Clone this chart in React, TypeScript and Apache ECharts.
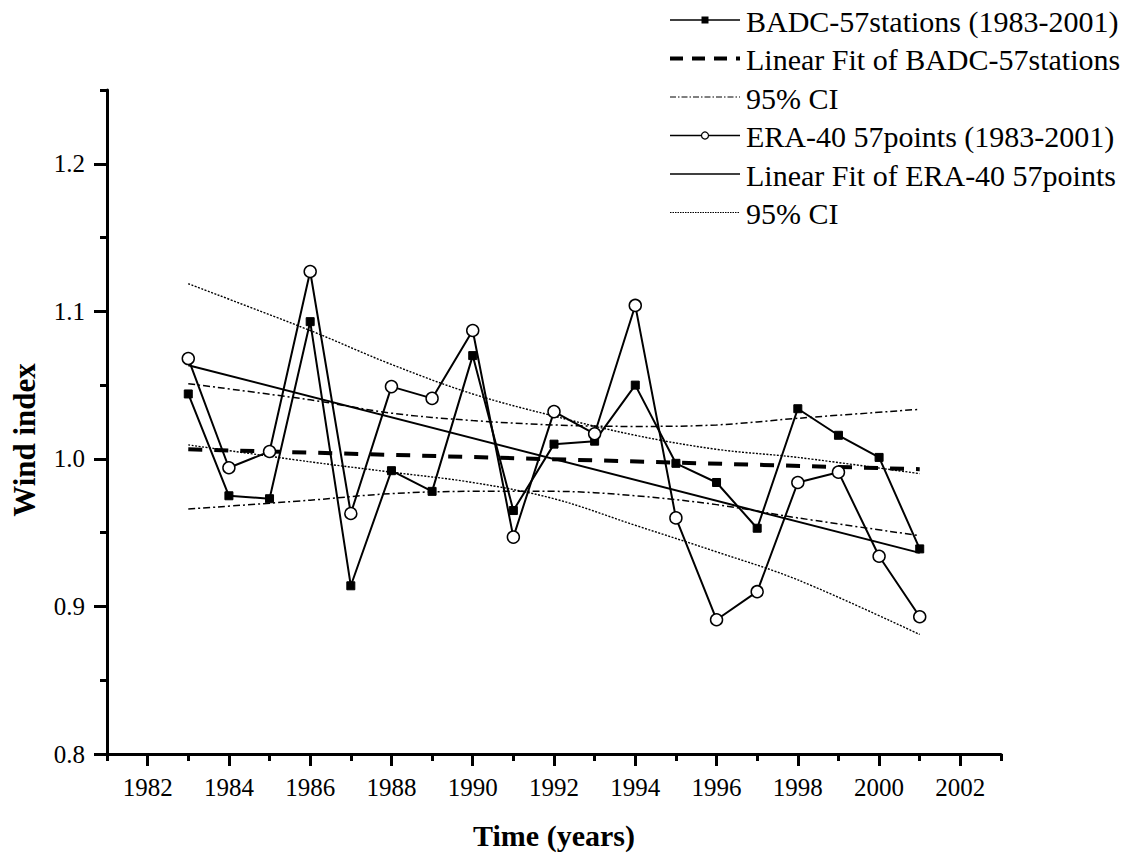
import React, { useEffect, useRef } from "react";
import * as echarts from "echarts";

const years = [1983, 1984, 1985, 1986, 1987, 1988, 1989, 1990, 1991, 1992, 1993, 1994, 1995, 1996, 1997, 1998, 1999, 2000, 2001];
const badc = [1.044, 0.975, 0.973, 1.093, 0.914, 0.992, 0.978, 1.070, 0.965, 1.010, 1.012, 1.050, 0.997, 0.984, 0.953, 1.034, 1.016, 1.001, 0.939];
const era = [1.068, 0.994, 1.005, 1.127, 0.963, 1.049, 1.041, 1.087, 0.947, 1.032, 1.017, 1.104, 0.960, 0.891, 0.910, 0.984, 0.991, 0.934, 0.893];

const fitYears = [1983, 2001];
const badcFit = [1.0065, 0.993];
const eraFit = [1.0635, 0.9363];

const ciYears = [1983, 1986, 1988, 1990, 1992, 1994, 1996, 1998, 2001];
const badcUpper = [1.051, 1.040, 1.031, 1.026, 1.023, 1.022, 1.023, 1.0275, 1.0336];
const badcLower = [0.966, 0.972, 0.9765, 0.978, 0.978, 0.975, 0.969, 0.960, 0.948];
const eraUpper = [1.1187, 1.087, 1.064, 1.044, 1.029, 1.016, 1.0065, 1.001, 0.990];
const eraLower = [1.0095, 0.998, 0.991, 0.984, 0.973, 0.955, 0.937, 0.918, 0.881];

const xMajor = [1982, 1984, 1986, 1988, 1990, 1992, 1994, 1996, 1998, 2000, 2002];
const xMinor = [1981, 1983, 1985, 1987, 1989, 1991, 1993, 1995, 1997, 1999, 2001, 2003];
const yMajor = [0.8, 0.9, 1.0, 1.1, 1.2];
const yMinor = [0.85, 0.95, 1.05, 1.15, 1.25];

const legendLabels = [
  "BADC-57stations (1983-2001)",
  "Linear Fit of BADC-57stations",
  "95% CI",
  "ERA-40 57points (1983-2001)",
  "Linear Fit of ERA-40 57points",
  "95% CI",
];

const FONT = '"Liberation Serif", "Times New Roman", serif';

const pairs = (xs: number[], ys: number[]) => xs.map((x, i) => [x, ys[i]]);

export default function App() {
  const ref = useRef<HTMLDivElement>(null);
  useEffect(() => {
    if (!ref.current) return;
    const chart = echarts.init(ref.current, null, { renderer: "svg" });

    const lx1 = 670, lx2 = 740, ltx = 746, ly0 = 20, lstep = 38.5;
    const legendStyles: any[] = [
      { lineWidth: 1.5, lineDash: null },
      { lineWidth: 4, lineDash: [13, 9] },
      { lineWidth: 1, lineDash: [6, 2, 1.5, 2] },
      { lineWidth: 1.5, lineDash: null },
      { lineWidth: 1.5, lineDash: null },
      { lineWidth: 1, lineDash: [1.5, 1] },
    ];
    const legendGraphics: any[] = [];
    legendLabels.forEach((label, i) => {
      const y = ly0 + i * lstep;
      legendGraphics.push({
        type: "line",
        shape: { x1: lx1, y1: y, x2: lx2, y2: y },
        style: { stroke: "#000", lineWidth: legendStyles[i].lineWidth, lineDash: legendStyles[i].lineDash },
      });
      legendGraphics.push({
        type: "text",
        x: ltx,
        y: y + 1,
        style: { text: label, fill: "#000", font: `30px ${FONT}`, verticalAlign: "middle" },
      });
    });
    legendGraphics.push({
      type: "rect",
      shape: { x: 701.5, y: ly0 - 3.5, width: 7, height: 7 },
      style: { fill: "#000" },
    });
    legendGraphics.push({
      type: "circle",
      shape: { cx: 705, cy: ly0 + 3 * lstep, r: 3.5 },
      style: { fill: "#fff", stroke: "#000", lineWidth: 1.2 },
    });

    const axisLineStyle = { color: "#000", width: 3 };

    const option: any = {
      animation: false,
      backgroundColor: "#fff",
      grid: { left: 107, right: 140, top: 90, bottom: 102, containLabel: false },
      xAxis: [
        {
          type: "value",
          min: 1981,
          max: 2003,
          position: "bottom",
          axisLine: { show: true, lineStyle: axisLineStyle },
          axisTick: { show: true, customValues: xMajor, length: 12, inside: false, lineStyle: { color: "#000", width: 3 } },
          axisLabel: {
            show: true,
            customValues: xMajor,
            margin: 21,
            color: "#000",
            fontFamily: FONT,
            fontSize: 25,
            formatter: (v: number) => String(v),
          },
          splitLine: { show: false },
        },
        {
          type: "value",
          min: 1981,
          max: 2003,
          position: "bottom",
          axisLine: { show: false },
          axisTick: { show: true, customValues: xMinor, length: 7, inside: false, lineStyle: { color: "#000", width: 3 } },
          axisLabel: { show: false },
          splitLine: { show: false },
        },
      ],
      yAxis: [
        {
          type: "value",
          min: 0.8,
          max: 1.25,
          position: "left",
          axisLine: { show: true, lineStyle: axisLineStyle },
          axisTick: { show: true, customValues: yMajor, length: 13, inside: false, lineStyle: { color: "#000", width: 3 } },
          axisLabel: {
            show: true,
            customValues: yMajor,
            margin: 22,
            color: "#000",
            fontFamily: FONT,
            fontSize: 25,
            formatter: (v: number) => v.toFixed(1),
          },
          splitLine: { show: false },
        },
        {
          type: "value",
          min: 0.8,
          max: 1.25,
          position: "left",
          axisLine: { show: false },
          axisTick: { show: true, customValues: yMinor, length: 7, inside: false, lineStyle: { color: "#000", width: 3 } },
          axisLabel: { show: false },
          splitLine: { show: false },
        },
      ],
      series: [
        {
          name: "95% CI BADC upper",
          type: "line",
          data: pairs(ciYears, badcUpper),
          smooth: 0.35,
          showSymbol: false,
          symbol: "none",
          lineStyle: { color: "#000", width: 1.5, type: [7, 3, 2, 3] },
        },
        {
          name: "95% CI BADC lower",
          type: "line",
          data: pairs(ciYears, badcLower),
          smooth: 0.35,
          showSymbol: false,
          symbol: "none",
          lineStyle: { color: "#000", width: 1.5, type: [7, 3, 2, 3] },
        },
        {
          name: "95% CI ERA upper",
          type: "line",
          data: pairs(ciYears, eraUpper),
          smooth: 0.35,
          showSymbol: false,
          symbol: "none",
          lineStyle: { color: "#000", width: 1.4, type: [2, 1.5] },
        },
        {
          name: "95% CI ERA lower",
          type: "line",
          data: pairs(ciYears, eraLower),
          smooth: 0.35,
          showSymbol: false,
          symbol: "none",
          lineStyle: { color: "#000", width: 1.4, type: [2, 1.5] },
        },
        {
          name: "Linear Fit of BADC-57stations",
          type: "line",
          data: pairs(fitYears, badcFit),
          showSymbol: false,
          symbol: "none",
          lineStyle: { color: "#000", width: 4, type: [14, 12] },
        },
        {
          name: "Linear Fit of ERA-40 57points",
          type: "line",
          data: pairs(fitYears, eraFit),
          showSymbol: false,
          symbol: "none",
          lineStyle: { color: "#000", width: 2 },
        },
        {
          name: "BADC-57stations (1983-2001)",
          type: "line",
          data: pairs(years, badc),
          symbol: "rect",
          symbolSize: 8,
          itemStyle: { color: "#000", borderColor: "#000" },
          lineStyle: { color: "#000", width: 2 },
          z: 3,
        },
        {
          name: "ERA-40 57points (1983-2001)",
          type: "line",
          data: pairs(years, era),
          symbol: "circle",
          symbolSize: 12,
          itemStyle: { color: "#fff", borderColor: "#000", borderWidth: 1.5 },
          lineStyle: { color: "#000", width: 2 },
          z: 4,
        },
      ],
      graphic: [
        ...legendGraphics,
        {
          type: "text",
          x: 24,
          y: 440,
          rotation: Math.PI / 2,
          style: {
            text: "Wind index",
            fill: "#000",
            font: `bold 31px ${FONT}`,
            align: "center",
            verticalAlign: "middle",
          },
        },
        {
          type: "text",
          x: 554,
          y: 835,
          style: {
            text: "Time (years)",
            fill: "#000",
            font: `bold 30px ${FONT}`,
            align: "center",
            verticalAlign: "middle",
          },
        },
      ],
    };
    chart.setOption(option);
    return () => chart.dispose();
  }, []);
  return (
    <div
      ref={ref}
      style={{ position: "absolute", left: 0, top: 0, width: 1141, height: 856 }}
    />
  );
}
